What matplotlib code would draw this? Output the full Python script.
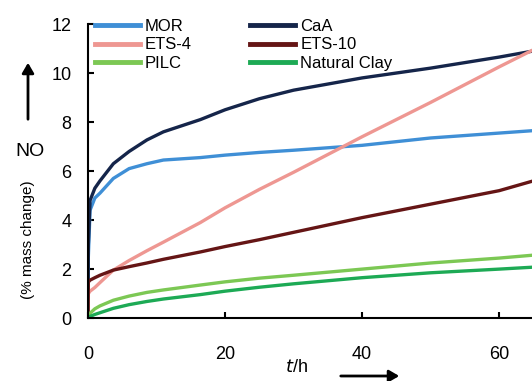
import matplotlib
matplotlib.use("Agg")
import matplotlib.pyplot as plt
from matplotlib.lines import Line2D
from matplotlib.patches import FancyArrowPatch

plt.rcParams["font.family"] = ["Liberation Sans", "DejaVu Sans"]

# time axis (h) shared by all series
t = [0, 0.05, 0.3, 1, 1.75, 3.7, 6, 8.6, 11, 16.4, 20, 25, 30, 40, 50, 60, 65]

mor = [0, 2.5, 4.4, 4.9, 5.1, 5.7, 6.1, 6.3, 6.45, 6.55, 6.65, 6.76, 6.85, 7.05, 7.35, 7.55, 7.65]
caa = [0, 3.0, 4.8, 5.3, 5.6, 6.3, 6.8, 7.27, 7.6, 8.1, 8.5, 8.95, 9.3, 9.8, 10.2, 10.65, 10.9]
ets4 = [0, 1.0, 1.1, 1.25, 1.45, 1.96, 2.35, 2.75, 3.1, 3.9, 4.5, 5.25, 5.95, 7.4, 8.8, 10.25, 10.95]
ets10 = [0, 1.47, 1.55, 1.65, 1.75, 1.96, 2.1, 2.25, 2.4, 2.7, 2.92, 3.2, 3.5, 4.1, 4.65, 5.2, 5.6]
pilc = [0, 0.05, 0.2, 0.38, 0.5, 0.73, 0.9, 1.05, 1.15, 1.35, 1.48, 1.63, 1.75, 2.0, 2.25, 2.45, 2.57]
clay = [0, 0.02, 0.07, 0.15, 0.22, 0.4, 0.55, 0.68, 0.78, 0.96, 1.1, 1.26, 1.4, 1.65, 1.85, 2.0, 2.08]

labels = ["MOR", "CaA", "ETS-4", "ETS-10", "PILC", "Natural Clay"]
colors = ["#3f8fd6", "#15254a", "#ee9792", "#651515", "#7cc854", "#1daa55"]

fig = plt.figure(figsize=(5.32, 3.81), dpi=100)
ax = fig.add_axes([0.1654, 0.165, 0.8346, 0.772])

series = [mor, caa, ets4, ets10, pilc, clay]
handles = {}
for name, ys, c in zip(labels, series, colors):
    (ln,) = ax.plot(t, ys, color=c, lw=2.4, solid_capstyle="butt")
    handles[name] = ln

ax.set_xlim(0, 64.8)
ax.set_ylim(0, 12)
ax.set_xticks([0, 20, 40, 60])
ax.set_yticks(range(0, 13, 2))
for s in ["top", "right"]:
    ax.spines[s].set_visible(False)
for s in ["left", "bottom"]:
    ax.spines[s].set_linewidth(1.5)
ax.tick_params(direction="in", length=4, width=1.5, labelsize=13)
ax.tick_params(axis="x", pad=20)
ax.tick_params(axis="y", pad=12)

order = ["MOR", "ETS-4", "PILC", "CaA", "ETS-10", "Natural Clay"]
ax.legend([Line2D([], [], color=handles[n].get_color(), lw=3.5) for n in order], order,
          ncol=2, loc="upper left", bbox_to_anchor=(0.016, 1.018), frameon=False,
          fontsize=12, handlelength=2.7, handletextpad=0.3, columnspacing=3.5,
          labelspacing=0.22, borderpad=0, borderaxespad=0)

# axis labels with arrows
fig.text(30 / 532, 1 - 152 / 381, "NO", fontsize=14, ha="center", va="center")
fig.text(28 / 532, 1 - 240 / 381, "(% mass change)", fontsize=11, rotation=90,
         ha="center", va="center")
fig.add_artist(FancyArrowPatch(
    (28 / 532, 1 - 122 / 381), (28 / 532, 1 - 60 / 381), transform=fig.transFigure,
    arrowstyle="-|>,head_length=6,head_width=3.5", lw=2, color="black"))
fig.text(296 / 532, 1 - 368 / 381, "$t$/h", fontsize=13, ha="center", va="center")
fig.add_artist(FancyArrowPatch(
    (338 / 532, 1 - 376 / 381), (402 / 532, 1 - 376 / 381), transform=fig.transFigure,
    arrowstyle="-|>,head_length=6,head_width=3.5", lw=2, color="black"))

fig.savefig("out.png", dpi=100)
